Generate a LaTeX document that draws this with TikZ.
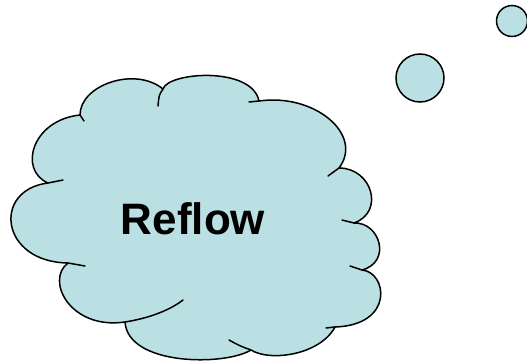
\documentclass[tikz,border=0pt]{standalone}
\usepackage{fontspec}
\setmainfont{Liberation Sans}
\usepackage{tikz}
\definecolor{cloudfill}{HTML}{BBE0E3}

\begin{document}
\begin{tikzpicture}[x=1pt,y=-1pt,
  cloud/.style={draw=black,fill=cloudfill,line width=1.5pt,line join=round},
  tick/.style={draw=black,line width=1.5pt,line cap=round},
  bubble/.style={circle,draw=black,fill=cloudfill,line width=1.5pt,inner sep=0pt}]
\useasboundingbox (0,0) rectangle (527,361);
% ---------- cloud outline ----------
\draw[cloud] (80,115)
  .. controls (80,85) and (135,66) .. (163,89)
  .. controls (168,72) and (252,66) .. (259,101)
  .. controls (315,93) and (364,135) .. (339,168)
  .. controls (372,168) and (385,212) .. (354,223)
  .. controls (380,222) and (392,262) .. (362,270)
  .. controls (387,272) and (395,325) .. (335,327)
  .. controls (320,355) and (270,362) .. (251,350)
  .. controls (225,366) and (128,366) .. (125,322)
  .. controls (70,330) and (45,280) .. (68,263)
  .. controls (0,262) and (-8,190) .. (48,183)
  .. controls (18,170) and (32,120) .. (80,115) -- cycle;
% ---------- inner ticks ----------
\draw[tick] (80,115) -- (84,121);
\draw[tick] (163,89) .. controls (159,95) .. (158,106);
\draw[tick] (259,101) -- (249,102);
\draw[tick] (339,168) -- (328,176);
\draw[tick] (354,223) -- (342,220);
\draw[tick] (362,270) -- (350,266);
\draw[tick] (335,327) -- (326,328);
\draw[tick] (251,350) .. controls (240,346) .. (229,340);
\draw[tick] (125,322) .. controls (150,318) and (170,310) .. (183,300);
\draw[tick] (68,263) -- (85,266);
\draw[tick] (48,183) -- (63,180);
% ---------- label and bubbles ----------
\node[font=\fontsize{44}{44}\selectfont\bfseries,inner sep=0pt] (label) at (193,219) {Reflow};
\node[bubble,minimum size=48pt] (bubbleA) at (420,78) {};
\node[bubble,minimum size=31pt] (bubbleB) at (512,21) {};
\end{tikzpicture}
\end{document}
